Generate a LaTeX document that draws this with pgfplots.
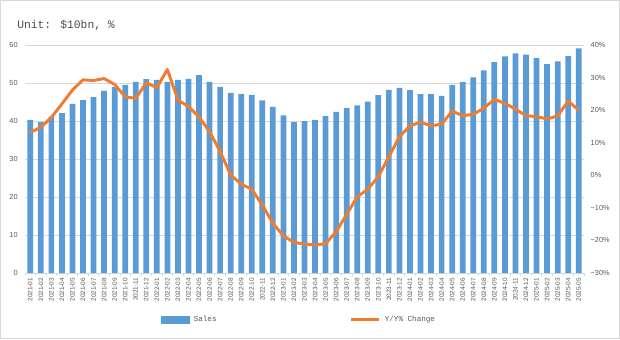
\documentclass[border=0pt]{standalone}
\usepackage{fontspec}
\setmainfont{Liberation Sans}
\newfontfamily\monofont{Liberation Mono}
\usepackage{pgfplots}
\pgfplotsset{compat=1.18}
\usepackage{pgfplotstable}
\definecolor{barblue}{HTML}{5B9BD5}
\definecolor{lineorange}{HTML}{ED7D31}
\definecolor{txtgrey}{HTML}{595959}
\definecolor{gridgrey}{HTML}{D9D9D9}

\pgfplotstableread{
x y
0 40.3
1 39.7
2 41.1
3 42.1
4 44.5
5 45.5
6 46.3
7 47.9
8 49.0
9 49.5
10 50.3
11 51.0
12 50.8
13 50.3
14 50.8
15 51.1
16 52.1
17 50.3
18 49.0
19 47.4
20 47.1
21 46.9
22 45.4
23 43.7
24 41.5
25 39.7
26 40.0
27 40.3
28 41.3
29 42.4
30 43.4
31 44.1
32 45.1
33 46.8
34 48.2
35 48.7
36 48.1
37 47.1
38 47.1
39 46.6
40 49.5
41 50.2
42 51.5
43 53.3
44 55.5
45 57.0
46 57.8
47 57.5
48 56.6
49 55.0
50 55.7
51 57.1
52 59.1
}\sales

\pgfplotstableread{
x y
0 13.2
1 14.7
2 17.8
3 21.9
4 26.2
5 29.3
6 29.1
7 29.7
8 27.9
9 24.1
10 23.6
11 28.4
12 26.9
13 32.5
14 23.1
15 21.1
16 17.9
17 13.4
18 7.3
19 0.1
20 -2.7
21 -4.3
22 -9.1
23 -14.7
24 -18.6
25 -20.6
26 -21.1
27 -21.4
28 -21.0
29 -17.3
30 -12.0
31 -6.6
32 -4.3
33 -0.4
34 5.7
35 11.8
36 15.2
37 16.3
38 15.2
39 15.7
40 19.7
41 18.3
42 18.7
43 20.6
44 23.3
45 22.1
46 20.3
47 18.3
48 18.0
49 17.3
50 18.2
51 22.8
52 20.0
}\yoy

\begin{document}
\begin{tikzpicture}[x=1pt,y=1pt]
\useasboundingbox (0,0) rectangle (465,254.25);
\draw[gridgrey, line width=0.75pt] (0.375,0.375) rectangle (464.625,253.875);
\node[anchor=west, font=\monofont\fontsize{8.5}{10}\selectfont, text=txtgrey!85!black, inner sep=0] at (12.75,235.5) {Unit: \$10bn, \%};

\begin{axis}[
  at={(18.75pt,49.5pt)}, anchor=south west, scale only axis,
  width=419.25pt, height=171pt,
  xmin=-0.5, xmax=52.5, ymin=0, ymax=60,
  ytick={0,10,...,60},
  /pgf/number format/assume math mode=true,
  axis x line*=bottom, axis y line*=left,
  x axis line style={gridgrey, line width=0.75pt},
  y axis line style={draw=none},
  ymajorgrids, grid style={gridgrey, line width=0.75pt},
  major tick length=0pt,
  xtick={0,...,52},
  minor xtick={-0.5,0.5,...,52.5},
  minor tick length=2.5pt, tick align=outside,
  minor tick style={gridgrey, line width=0.6pt},
  xticklabels={2021-01,2021-02,2021-03,2021-04,2021-05,2021-06,2021-07,2021-08,2021-09,2021-10,2021-11,2021-12,
    2022-01,2022-02,2022-03,2022-04,2022-05,2022-06,2022-07,2022-08,2022-09,2022-10,2022-11,2022-12,
    2023-01,2023-02,2023-03,2023-04,2023-05,2023-06,2023-07,2023-08,2023-09,2023-10,2023-11,2023-12,
    2024-01,2024-02,2024-03,2024-04,2024-05,2024-06,2024-07,2024-08,2024-09,2024-10,2024-11,2024-12,
    2025-01,2025-02,2025-03,2025-04,2025-05},
  xticklabel style={rotate=90, anchor=east, font=\fontsize{4.8}{5}\selectfont, text=txtgrey, inner sep=0pt, xshift=-3.5pt},
  yticklabel style={font=\fontsize{5.5}{6}\selectfont, text=txtgrey, xshift=-2pt},
]
\addplot[ybar, bar width=4.3pt, fill=barblue, draw=none] table[x=x, y=y] {\sales};
\end{axis}

\begin{axis}[
  at={(18.75pt,49.5pt)}, anchor=south west, scale only axis,
  width=419.25pt, height=171pt,
  xmin=-0.5, xmax=52.5, ymin=-30, ymax=40,
  ytick={-30,-20,...,40},
  yticklabels={−30\%,−20\%,−10\%,0\%,10\%,20\%,30\%,40\%},
  axis y line*=right, hide x axis,
  y axis line style={draw=none},
  major tick length=0pt,
  yticklabel style={font=\fontsize{5.5}{6}\selectfont, text=txtgrey, xshift=1.5pt},
  legend columns=2,
  legend style={at={(0.491,-0.204)}, anchor=center, draw=none, fill=none,
    font=\monofont\fontsize{5.7}{6}\selectfont, text=txtgrey,
    /tikz/every even column/.append style={column sep=98pt},
    /tikz/every odd column/.append style={column sep=1pt}},
]
\addlegendimage{legend image code/.code={\fill[barblue] (0pt,-2.6pt) rectangle (21pt,2.6pt);}}
\addlegendentry{Sales}
\addplot[lineorange, line width=2.2pt, line join=round, no markers,
  legend image code/.code={\draw[lineorange, line width=2.2pt] (0pt,0pt) -- (21pt,0pt);}]
  table[x=x, y=y] {\yoy};
\addlegendentry{Y/Y\% Change}
\end{axis}
\end{tikzpicture}
\end{document}
